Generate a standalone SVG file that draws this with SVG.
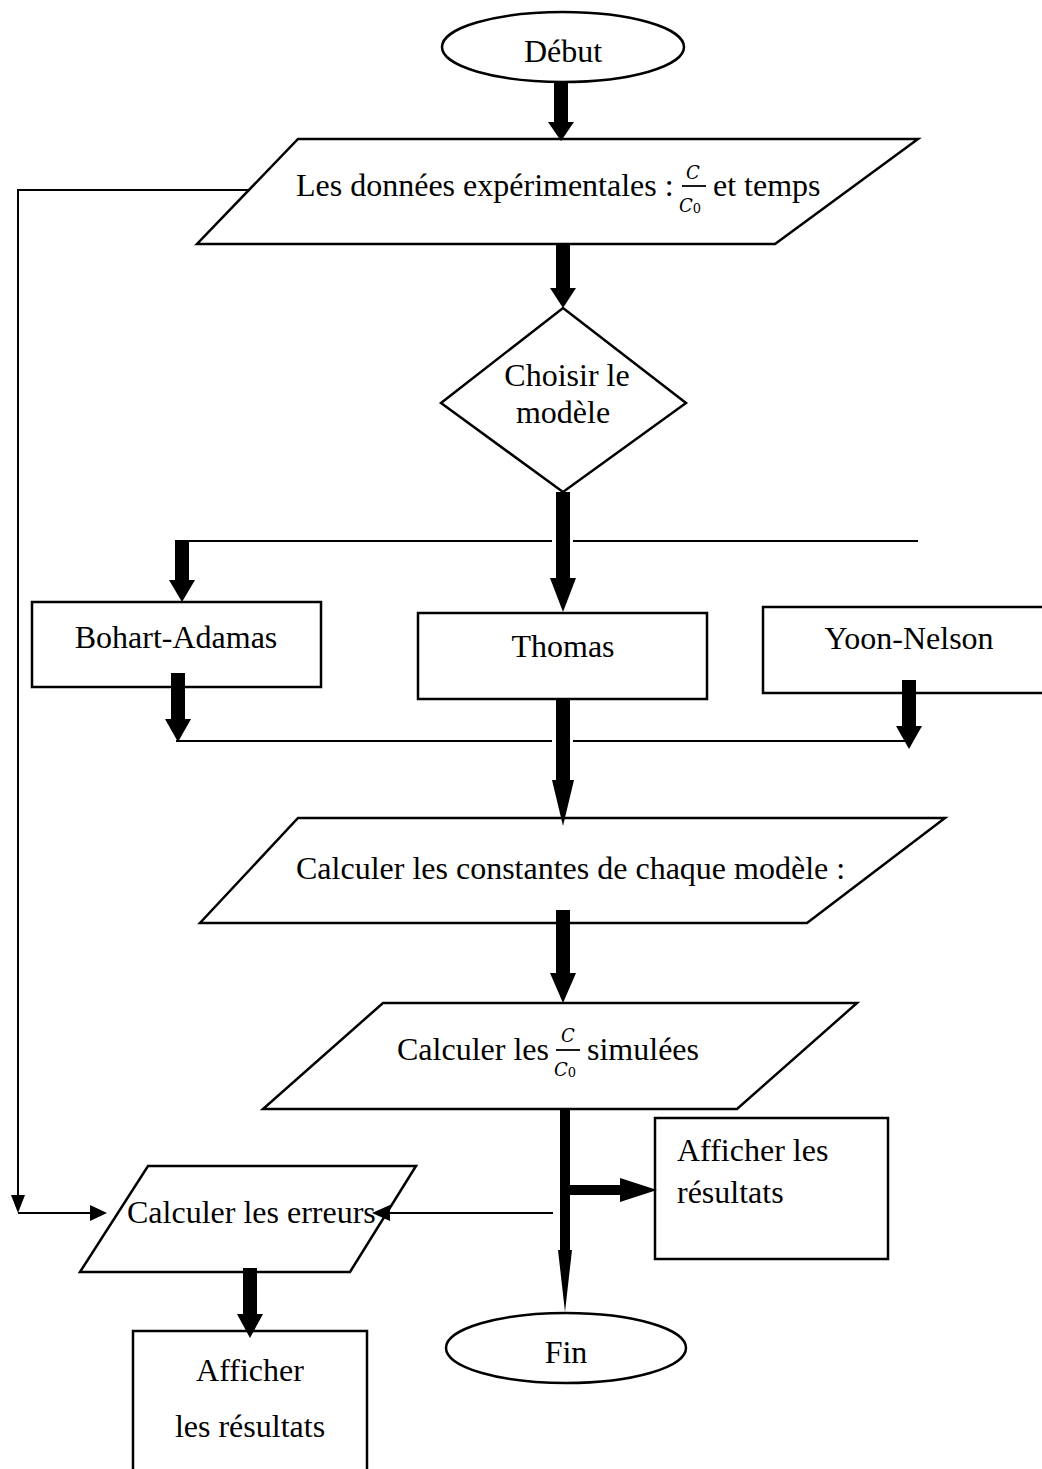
<svg xmlns="http://www.w3.org/2000/svg" width="1042" height="1469" viewBox="0 0 1042 1469">
<style>
.shape{fill:#fff;stroke:#000;stroke-width:2.5}
.t{font-family:"Liberation Serif","Times New Roman",serif;font-size:32px;fill:#000}
.m{font-family:"DejaVu Serif","Liberation Serif",serif;font-style:italic;font-size:18px;fill:#000}
.sub{font-family:"DejaVu Serif","Liberation Serif",serif;font-style:normal;font-size:13px}
.thin{stroke:#000;stroke-width:2;fill:none}
.thick{stroke:#000;stroke-width:14;fill:none}
.head{fill:#000}
</style>
<rect width="1042" height="1469" fill="#fff"/>
<g id="debut">
  <ellipse class="shape" cx="563" cy="47" rx="121" ry="35"/>
  <text class="t" x="563" y="62" text-anchor="middle">Début</text>
</g>
<g id="donnees">
  <polygon class="shape" points="298,139 918,139 775,244 197,244"/>
  <text class="t" x="296" y="196">Les données expérimentales :</text>
  <text class="m" x="693" y="179" text-anchor="middle">C</text>
  <line x1="682" y1="186" x2="706" y2="186" stroke="#000" stroke-width="1.8"/>
  <text class="m" x="690" y="212" text-anchor="middle">C<tspan class="sub" dy="1">0</tspan></text>
  <text class="t" x="713" y="196">et temps</text>
</g>
<g id="choisir">
  <polygon class="shape" points="563,308 686,403 563,492 441,403"/>
  <text class="t" x="567" y="386" text-anchor="middle">Choisir le</text>
  <text class="t" x="563" y="423" text-anchor="middle">modèle</text>
</g>
<g id="bohart">
  <rect class="shape" x="32" y="602" width="289" height="85"/>
  <text class="t" x="176" y="648" text-anchor="middle">Bohart-Adamas</text>
</g>
<g id="thomas">
  <rect class="shape" x="418" y="613" width="289" height="86"/>
  <text class="t" x="563" y="657" text-anchor="middle">Thomas</text>
</g>
<g id="yoon">
  <rect class="shape" x="763" y="607" width="290" height="86"/>
  <text class="t" x="909" y="649" text-anchor="middle">Yoon-Nelson</text>
</g>
<g id="constantes">
  <polygon class="shape" points="298,818 945,818 807,923 200,923"/>
  <text class="t" x="296" y="879">Calculer les constantes de chaque modèle :</text>
</g>
<g id="simulees">
  <polygon class="shape" points="383,1003 857,1003 737,1109 263,1109"/>
  <text class="t" x="397" y="1060">Calculer les</text>
  <text class="m" x="568" y="1042" text-anchor="middle">C</text>
  <line x1="556" y1="1050" x2="580" y2="1050" stroke="#000" stroke-width="1.8"/>
  <text class="m" x="565" y="1076" text-anchor="middle">C<tspan class="sub" dy="1">0</tspan></text>
  <text class="t" x="587" y="1060">simulées</text>
</g>
<g id="afficher1">
  <rect class="shape" x="655" y="1118" width="233" height="141"/>
  <text class="t" x="677" y="1161">Afficher les</text>
  <text class="t" x="677" y="1203">résultats</text>
</g>
<g id="erreurs">
  <polygon class="shape" points="148,1166 416,1166 350,1272 80,1272"/>
  <text class="t" x="127" y="1223">Calculer les erreurs</text>
</g>
<g id="fin">
  <ellipse class="shape" cx="566" cy="1348" rx="120" ry="35"/>
  <text class="t" x="566" y="1363" text-anchor="middle">Fin</text>
</g>
<g id="afficher2">
  <rect class="shape" x="133" y="1331" width="234" height="160"/>
  <text class="t" x="250" y="1381" text-anchor="middle">Afficher</text>
  <text class="t" x="250" y="1437" text-anchor="middle">les résultats</text>
</g>
<g id="connectors">
  <line class="thick" x1="561" y1="82" x2="561" y2="122"/>
  <polygon class="head" points="548,122 574,122 561,141"/>
  <line class="thick" x1="563" y1="244" x2="563" y2="288"/>
  <polygon class="head" points="550,288 576,288 563,308"/>
  <line class="thick" x1="563" y1="492" x2="563" y2="590"/>
  <polygon class="head" points="550,578 576,578 563,612"/>
  <line class="thin" x1="176" y1="541" x2="552" y2="541"/>
  <line class="thin" x1="573" y1="541" x2="918" y2="541"/>
  <line class="thick" x1="182" y1="540" x2="182" y2="582"/>
  <polygon class="head" points="169,580 195,580 182,602"/>
  <line class="thick" x1="178" y1="673" x2="178" y2="720"/>
  <polygon class="head" points="165,719 191,719 178,742"/>
  <line class="thick" x1="909" y1="680" x2="909" y2="727"/>
  <polygon class="head" points="896,726 922,726 909,749"/>
  <line class="thin" x1="176" y1="741" x2="552" y2="741"/>
  <line class="thin" x1="573" y1="741" x2="906" y2="741"/>
  <line class="thick" x1="563" y1="699" x2="563" y2="784"/>
  <polygon class="head" points="552,780 574,780 563,826"/>
  <line class="thick" x1="563" y1="910" x2="563" y2="975"/>
  <polygon class="head" points="550,973 576,973 563,1003"/>
  <line stroke="#000" stroke-width="10" x1="565" y1="1109" x2="565" y2="1252"/>
  <polygon class="head" points="558,1250 572,1250 565,1312"/>
  <line stroke="#000" stroke-width="10" x1="565" y1="1190" x2="625" y2="1190"/>
  <polygon class="head" points="620,1178 620,1202 657,1190"/>
  <line class="thin" x1="553" y1="1213" x2="388" y2="1213"/>
  <polygon class="head" points="390,1205 390,1221 372,1213"/>
  <polyline class="thin" points="250,190 18,190 18,1198"/>
  <polygon class="head" points="11,1195 25,1195 18,1213"/>
  <line class="thin" x1="18" y1="1213" x2="92" y2="1213"/>
  <polygon class="head" points="90,1205 90,1221 107,1213"/>
  <line class="thick" x1="250" y1="1268" x2="250" y2="1316"/>
  <polygon class="head" points="237,1314 263,1314 250,1338"/>
</g>
</svg>
